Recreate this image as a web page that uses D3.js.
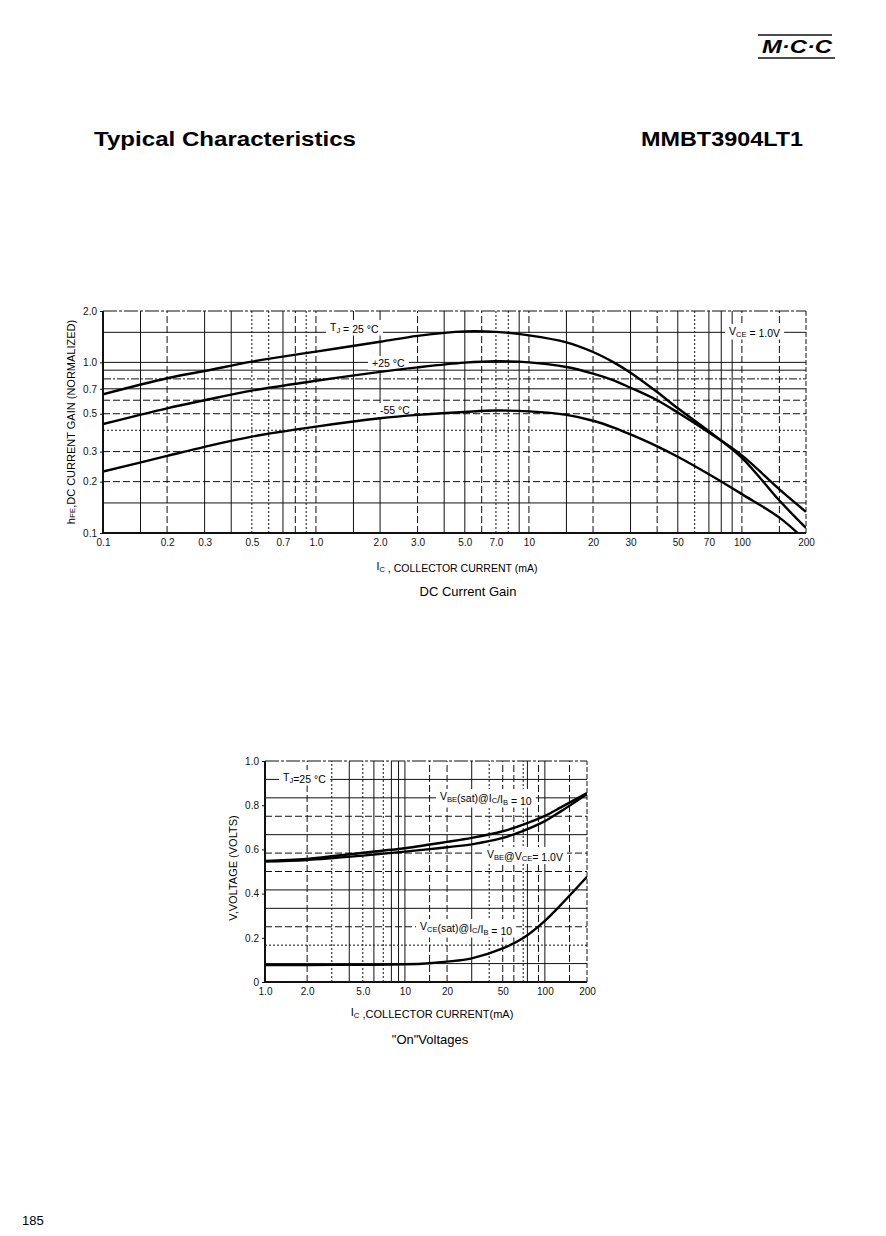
<!DOCTYPE html>
<html>
<head>
<meta charset="utf-8">
<script src="https://cdnjs.cloudflare.com/ajax/libs/d3/7.8.5/d3.min.js"></script>
<style>
  body { margin: 0; background: #fff; }
  svg { display: block; font-family: "Liberation Sans", Arial, sans-serif; }
</style>
</head>
<body>
<svg id="page" width="886" height="1236"></svg>
<script>
// ---- DC current gain (normalized hFE vs IC) ----
var gainCurrent = [0.1, 0.2, 0.3, 0.5, 1, 2, 3, 5, 7, 10, 15, 20, 25, 30, 40, 50, 70, 100, 150, 200];
var gainHot  = [0.65, 0.807, 0.89, 1.01, 1.156, 1.32, 1.43, 1.52, 1.51, 1.44, 1.31, 1.15, 1.0, 0.87, 0.67, 0.538, 0.395, 0.276, 0.155, 0.107];
var gainRoom = [0.435, 0.538, 0.60, 0.683, 0.78, 0.88, 0.935, 0.996, 1.015, 1.0, 0.94, 0.86, 0.785, 0.71, 0.60, 0.508, 0.388, 0.285, 0.18, 0.133];
var gainCold = [0.229, 0.283, 0.32, 0.367, 0.42, 0.47, 0.492, 0.512, 0.522, 0.516, 0.492, 0.455, 0.415, 0.378, 0.322, 0.28, 0.221, 0.169, 0.123, 0.09];

var gainXTicks = [0.1, 0.2, 0.3, 0.5, 0.7, 1, 2, 3, 5, 7, 10, 20, 30, 50, 70, 100, 200];
var gainXLabels = ['0.1', '0.2', '0.3', '0.5', '0.7', '1.0', '2.0', '3.0', '5.0', '7.0', '10', '20', '30', '50', '70', '100', '200'];
var gainYTicks = [0.1, 0.2, 0.3, 0.5, 0.7, 1, 2];
var gainYLabels = ['0.1', '0.2', '0.3', '0.5', '0.7', '1.0', '2.0'];

// grid values of the scanned paper, grouped by how the line is drawn
var gainGridXSolid = [0.15, 0.3, 0.4, 0.7, 1.5, 2, 4, 5, 9, 15, 30, 50, 70, 80, 90];
var gainGridXDash = [0.2, 0.8, 1, 3, 6, 10, 20, 40, 100, 150];
var gainGridXDot = [0.5, 0.6, 0.9, 7, 8, 60];
var gainGridYSolid = [0.15, 0.7, 0.9, 1, 1.5];
var gainGridYDash = [0.2, 0.3, 0.5, 0.6];
var gainGridYDot = [0.4];
var gainGridYDashDot = [0.8];

// ---- "On" voltages (V vs IC) ----
var onCurrent = [1, 2, 5, 10, 15, 20, 30, 50, 70, 100, 130, 200];
var onVbeSat = [0.548, 0.557, 0.585, 0.605, 0.622, 0.634, 0.652, 0.682, 0.712, 0.752, 0.79, 0.855];
var onVbe    = [0.545, 0.552, 0.572, 0.59, 0.601, 0.61, 0.623, 0.652, 0.684, 0.728, 0.772, 0.85];
var onVceSat = [0.077, 0.077, 0.078, 0.08, 0.085, 0.092, 0.107, 0.152, 0.199, 0.277, 0.349, 0.476];

var onXTicks = [1, 2, 5, 10, 20, 50, 100, 200];
var onXLabels = ['1.0', '2.0', '5.0', '10', '20', '50', '100', '200'];
var onYTicks = [0, 0.2, 0.4, 0.6, 0.8, 1.0];
var onYLabels = ['0', '0.2', '0.4', '0.6', '0.8', '1.0'];

var onGridXSolid = [4, 6, 8, 9, 10, 30, 75, 100];
var onGridXDash = [2, 15, 20, 50, 60, 90, 150];
var onGridXDot = [3, 5, 7, 40, 70];
var onGridYSolid = [1 / 12, 4 / 12, 5 / 12, 8 / 12, 10 / 12, 11 / 12];
var onGridYDash = [3 / 12, 6 / 12, 7 / 12, 9 / 12];
var onGridYDot = [2 / 12];

var svg = d3.select('#page');
var dashes = { solid: null, dash: '7,3', dot: '2,2', dashdot: '8,2,2,2' };

function gridLines(g, x, y, values, vertical, style) {
  g.selectAll(null).data(values).enter().append('line')
    .attr('x1', function (d) { return vertical ? x(d) : x.range()[0]; })
    .attr('x2', function (d) { return vertical ? x(d) : x.range()[1]; })
    .attr('y1', function (d) { return vertical ? y.range()[0] : y(d); })
    .attr('y2', function (d) { return vertical ? y.range()[1] : y(d); })
    .attr('stroke', '#111')
    .attr('stroke-width', 1)
    .attr('stroke-dasharray', dashes[style]);
}

// text with subscript pieces: a piece starting with "_" is a subscript
function richText(g, parts, x, y, size, anchor, box) {
  var t = g.append('text')
    .attr('x', x).attr('y', y)
    .attr('font-size', size)
    .attr('text-anchor', anchor || 'start');
  parts.forEach(function (p) {
    var sub = p.charAt(0) === '_';
    t.append('tspan')
      .attr('font-size', sub ? size * 0.72 : size)
      .attr('dy', sub ? 1.5 : 0)
      .text(sub ? p.slice(1) : p);
    if (sub) { t.append('tspan').attr('font-size', size).attr('dy', -1.5).text(''); }
  });
  if (box) {
    var b = t.node().getBBox();
    g.insert('rect', function () { return t.node(); })
      .attr('x', b.x - 4).attr('y', b.y - 1)
      .attr('width', b.width + 8).attr('height', b.height + 2)
      .attr('fill', '#fff');
  }
  return t;
}

function axes(g, x, y, xTicks, xLabels, yTicks, yLabels) {
  var x0 = x.range()[0], x1 = x.range()[1], y0 = y.range()[0], y1 = y.range()[1];
  g.append('g')
    .attr('transform', 'translate(' + x0 + ',0)')
    .call(d3.axisLeft(y).tickValues(yTicks).tickSize(3).tickPadding(3)
      .tickFormat(function (d, i) { return yLabels[i]; }))
    .call(function (a) {
      a.select('.domain').remove();
      a.selectAll('text').attr('font-size', 10).attr('fill', '#111');
      a.selectAll('line').attr('stroke', '#111');
    });
  g.append('g')
    .attr('transform', 'translate(0,' + y0 + ')')
    .call(d3.axisBottom(x).tickValues(xTicks).tickSize(0).tickPadding(6)
      .tickFormat(function (d, i) { return xLabels[i]; }))
    .call(function (a) {
      a.select('.domain').remove();
      a.selectAll('text').attr('font-size', 10).attr('fill', '#111');
    });
  // frame: heavy left/bottom, broken top/right like the scan
  g.append('line').attr('x1', x0).attr('x2', x1).attr('y1', y1).attr('y2', y1)
    .attr('stroke', '#111').attr('stroke-dasharray', '14,2,3,2');
  g.append('line').attr('x1', x1).attr('x2', x1).attr('y1', y0).attr('y2', y1)
    .attr('stroke', '#111').attr('stroke-dasharray', '5,2');
  g.append('line').attr('x1', x0).attr('x2', x0).attr('y1', y0 + 1).attr('y2', y1)
    .attr('stroke', '#111').attr('stroke-width', 2);
  g.append('line').attr('x1', x0 - 1).attr('x2', x1).attr('y1', y0).attr('y2', y0)
    .attr('stroke', '#111').attr('stroke-width', 2);
}

function curve(g, x, y, xs, ys, clipId) {
  var line = d3.line()
    .x(function (d) { return x(d[0]); })
    .y(function (d) { return y(d[1]); })
    .curve(d3.curveCatmullRom.alpha(0.5));
  g.append('path')
    .datum(d3.zip(xs, ys))
    .attr('d', line)
    .attr('fill', 'none')
    .attr('stroke', '#000')
    .attr('stroke-width', 2.4)
    .attr('clip-path', 'url(#' + clipId + ')');
}

function clip(id, x, y) {
  svg.append('clipPath').attr('id', id).append('rect')
    .attr('x', x.range()[0]).attr('y', y.range()[1])
    .attr('width', x.range()[1] - x.range()[0])
    .attr('height', y.range()[0] - y.range()[1]);
}

// ---- page header ----
var logo = svg.append('g');
logo.append('line').attr('x1', 758).attr('x2', 832).attr('y1', 35).attr('y2', 35).attr('stroke', '#111').attr('stroke-width', 1.5);
logo.append('line').attr('x1', 758).attr('x2', 835).attr('y1', 58).attr('y2', 58).attr('stroke', '#111').attr('stroke-width', 1.5);
logo.append('text').attr('x', 762).attr('y', 53)
  .attr('font-size', 18).attr('font-weight', 'bold').attr('font-style', 'italic')
  .attr('textLength', 70).attr('lengthAdjust', 'spacingAndGlyphs')
  .text('M·C·C');

svg.append('text').attr('x', 94).attr('y', 146).attr('font-size', 20).attr('font-weight', 'bold')
  .attr('textLength', 262).attr('lengthAdjust', 'spacingAndGlyphs').text('Typical Characteristics');
svg.append('text').attr('x', 641).attr('y', 146).attr('font-size', 20).attr('font-weight', 'bold')
  .attr('textLength', 162).attr('lengthAdjust', 'spacingAndGlyphs').text('MMBT3904LT1');

svg.append('text').attr('x', 22).attr('y', 1225).attr('font-size', 13).text('185');

// ---- chart 1: DC current gain ----
var gx = d3.scaleLog().domain([0.1, 200]).range([103, 806]);
var gy = d3.scaleLog().domain([0.1, 2]).range([533, 311]);
var g1 = svg.append('g');
clip('clipGain', gx, gy);

gridLines(g1, gx, gy, gainGridXSolid, true, 'solid');
gridLines(g1, gx, gy, gainGridXDash, true, 'dash');
gridLines(g1, gx, gy, gainGridXDot, true, 'dot');
gridLines(g1, gx, gy, gainGridYSolid, false, 'solid');
gridLines(g1, gx, gy, gainGridYDash, false, 'dash');
gridLines(g1, gx, gy, gainGridYDot, false, 'dot');
gridLines(g1, gx, gy, gainGridYDashDot, false, 'dashdot');

richText(g1, ['T', '_J', ' = 25 °C'], 330, 331, 10.5, 'start', true);
richText(g1, ['+25 °C'], 372, 367, 10.5, 'start', true);
richText(g1, ['-55 °C'], 380, 414, 10.5, 'start', true);
richText(g1, ['V', '_CE', ' = 1.0V'], 729, 335, 10.5, 'start', true);

curve(g1, gx, gy, gainCurrent, gainHot, 'clipGain');
curve(g1, gx, gy, gainCurrent, gainRoom, 'clipGain');
curve(g1, gx, gy, gainCurrent, gainCold, 'clipGain');

axes(g1, gx, gy, gainXTicks, gainXLabels, gainYTicks, gainYLabels);

richText(g1, ['I', '_C', ' , COLLECTOR CURRENT (mA)'], 457, 570, 10.5, 'middle');
svg.append('text').attr('transform', 'translate(75,422) rotate(-90)')
  .attr('text-anchor', 'middle').attr('font-size', 11)
  .call(function (t) {
    t.append('tspan').text('h');
    t.append('tspan').attr('font-size', 8).text('FE');
    t.append('tspan').text(',DC CURRENT GAIN (NORMALIZED)');
  });
svg.append('text').attr('x', 468).attr('y', 596).attr('text-anchor', 'middle')
  .attr('font-size', 13).text('DC Current Gain');

// ---- chart 2: "On" voltages ----
var ox = d3.scaleLog().domain([1, 200]).range([265, 587]);
var oy = d3.scaleLinear().domain([0, 1]).range([982, 761]);
var g2 = svg.append('g');
clip('clipOn', ox, oy);

gridLines(g2, ox, oy, onGridXSolid, true, 'solid');
gridLines(g2, ox, oy, onGridXDash, true, 'dash');
gridLines(g2, ox, oy, onGridXDot, true, 'dot');
gridLines(g2, ox, oy, onGridYSolid, false, 'solid');
gridLines(g2, ox, oy, onGridYDash, false, 'dash');
gridLines(g2, ox, oy, onGridYDot, false, 'dot');

richText(g2, ['T', '_J', '=25 °C'], 283, 781, 10.5, 'start', true);
richText(g2, ['V', '_BE', '(sat)@I', '_C', '/I', '_B', ' = 10'], 440, 800, 10.5, 'start', true);
richText(g2, ['V', '_BE', '@V', '_CE', '= 1.0V'], 487, 858, 10.5, 'start', true);
richText(g2, ['V', '_CE', '(sat)@I', '_C', '/I', '_B', ' = 10'], 420, 930, 10.5, 'start', true);

curve(g2, ox, oy, onCurrent, onVbeSat, 'clipOn');
curve(g2, ox, oy, onCurrent, onVbe, 'clipOn');
curve(g2, ox, oy, onCurrent, onVceSat, 'clipOn');

axes(g2, ox, oy, onXTicks, onXLabels, onYTicks, onYLabels);

richText(g2, ['I', '_C', ' ,COLLECTOR CURRENT(mA)'], 432, 1016, 11, 'middle');
svg.append('text').attr('transform', 'translate(237,868) rotate(-90)')
  .attr('text-anchor', 'middle').attr('font-size', 11).text('V,VOLTAGE (VOLTS)');
svg.append('text').attr('x', 430).attr('y', 1044).attr('text-anchor', 'middle')
  .attr('font-size', 13).text('"On"Voltages');
</script>
</body>
</html>
